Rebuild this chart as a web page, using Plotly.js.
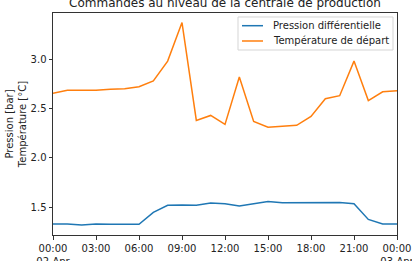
<!DOCTYPE html>
<html>
<head>
<meta charset="utf-8">
<script src="https://cdn.plot.ly/plotly-3.0.1.min.js"></script>
<style>html,body{margin:0;padding:0;background:#fff;}#chart{width:412px;height:261px;}</style>
</head>
<body>
<div id="chart"></div>
<script>
const times = [
  '2018-04-02 00:00','2018-04-02 01:00','2018-04-02 02:00','2018-04-02 03:00','2018-04-02 04:00',
  '2018-04-02 05:00','2018-04-02 06:00','2018-04-02 07:00','2018-04-02 08:00','2018-04-02 09:00',
  '2018-04-02 10:00','2018-04-02 11:00','2018-04-02 12:00','2018-04-02 13:00','2018-04-02 14:00',
  '2018-04-02 15:00','2018-04-02 16:00','2018-04-02 17:00','2018-04-02 18:00','2018-04-02 19:00',
  '2018-04-02 20:00','2018-04-02 21:00','2018-04-02 22:00','2018-04-02 23:00','2018-04-03 00:00'
];
const pression = [1.331,1.331,1.322,1.331,1.328,1.328,1.328,1.449,1.520,1.523,1.520,1.543,1.537,1.513,1.537,1.560,1.547,1.547,1.550,1.547,1.550,1.537,1.378,1.331,1.331];
const temperature = [2.654,2.684,2.684,2.684,2.694,2.700,2.720,2.780,2.980,3.370,2.380,2.430,2.340,2.820,2.370,2.310,2.320,2.330,2.420,2.600,2.630,2.980,2.580,2.670,2.680];
const xTickVals = ['2018-04-02 00:00','2018-04-02 03:00','2018-04-02 06:00','2018-04-02 09:00','2018-04-02 12:00','2018-04-02 15:00','2018-04-02 18:00','2018-04-02 21:00','2018-04-03 00:00'];
const xTickText = ['00:00<br>02-Apr','03:00','06:00','09:00','12:00','15:00','18:00','21:00','00:00<br>03-Apr'];
const yTickVals = [1.5, 2.0, 2.5, 3.0];
const yTickText = ['1.5','2.0','2.5','3.0'];
const seriesNames = ['Pression différentielle','Température de départ'];
const seriesColors = ['#1f77b4', '#ff7f0e'];
const titleText = 'Commandes au niveau de la centrale de production';
const yTitleText = 'Pression [bar]<br>Température [°C]';

const font = 'DejaVu Sans, sans-serif';
const traces = [
  {x: times, y: pression, type: 'scatter', mode: 'lines', name: seriesNames[0], line: {color: seriesColors[0], width: 1.5}},
  {x: times, y: temperature, type: 'scatter', mode: 'lines', name: seriesNames[1], line: {color: seriesColors[1], width: 1.5}}
];
const axisCommon = {
  showline: true, mirror: true, linecolor: '#333', linewidth: 1,
  ticks: 'outside', ticklen: 3.5, tickwidth: 1, tickcolor: '#333',
  showgrid: false, zeroline: false,
  tickfont: {family: font, size: 10, color: '#222'}
};

// Matplotlib-style legend box (paper coordinates)
const leg = {x0: 0.5378, x1: 0.9884, y0: 0.8333, y1: 0.982, sx0: 0.5494, sx1: 0.6105, tx: 0.6337, rows: [0.9428, 0.8739]};
const shapes = [{type: 'rect', xref: 'paper', yref: 'paper', x0: leg.x0, x1: leg.x1, y0: leg.y0, y1: leg.y1,
  line: {color: '#d5d5d5', width: 1}, fillcolor: 'rgba(255,255,255,0.8)', layer: 'above'}];
const annotations = [];
seriesNames.forEach((n, i) => {
  shapes.push({type: 'line', xref: 'paper', yref: 'paper', x0: leg.sx0, x1: leg.sx1, y0: leg.rows[i], y1: leg.rows[i],
    line: {color: seriesColors[i], width: 1.5}, layer: 'above'});
  annotations.push({text: n, xref: 'paper', yref: 'paper', x: leg.tx, y: leg.rows[i], xanchor: 'left', yanchor: 'middle',
    showarrow: false, font: {family: font, size: 10, color: '#222'}});
});

const layout = {
  width: 412, height: 261,
  margin: {l: 53, r: 15, t: 13, b: 26},
  paper_bgcolor: '#fff', plot_bgcolor: '#fff',
  font: {family: font, color: '#222'},
  title: {text: titleText, font: {family: font, size: 12, color: '#222'}, x: 0.5, xref: 'paper', y: 0.99, yref: 'container', yanchor: 'middle'},
  xaxis: Object.assign({}, axisCommon, {type: 'date', range: [times[0], times[times.length-1]], tickmode: 'array', tickvals: xTickVals, ticktext: xTickText, ticklabeloverflow: 'allow'}),
  yaxis: Object.assign({}, axisCommon, {range: [1.22, 3.467], tickmode: 'array', tickvals: yTickVals, ticktext: yTickText,
    title: {text: yTitleText, font: {family: font, size: 10, color: '#222'}, standoff: 2}}),
  showlegend: false,
  shapes: shapes,
  annotations: annotations
};
Plotly.newPlot('chart', traces, layout, {displayModeBar: false, staticPlot: true});
</script>
</body>
</html>
